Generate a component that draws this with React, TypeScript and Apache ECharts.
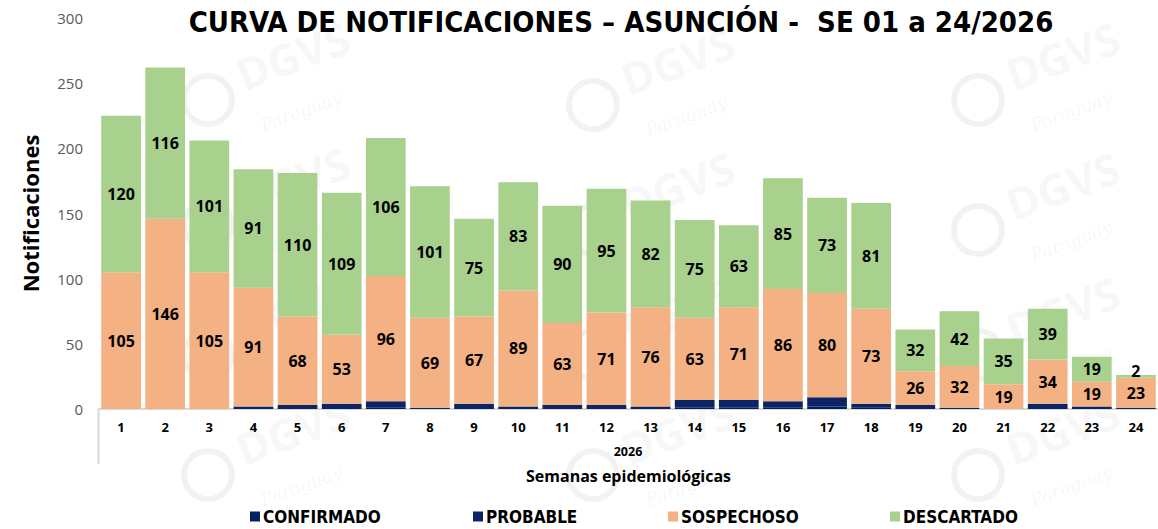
import React, { useEffect, useRef } from "react";
import * as echarts from "echarts";

const weeks = ["1","2","3","4","5","6","7","8","9","10","11","12","13","14","15","16","17","18","19","20","21","22","23","24"];
const confirmado = [0,0,0,0,0,0,1,0,0,0,0,0,0,1,1,1,2,1,0,0,0,0,0,0];
const probable = [0,0,0,2,3,4,5,1,4,2,3,3,2,6,6,5,7,3,3,1,0,4,2,1];
const sospechoso = [105,146,105,91,68,53,96,69,67,89,63,71,76,63,71,86,80,73,26,32,19,34,19,23];
const descartado = [120,116,101,91,110,109,106,101,75,83,90,95,82,75,63,85,73,81,32,42,35,39,19,2];
const yTicks = [0, 50, 100, 150, 200, 250, 300];

const NAVY = "#002060";
const NAVY2 = "#0a2466";
const ORANGE = "#F4B183";
const GREEN = "#A9D18E";
const COND = "'DejaVu Sans Condensed', 'DejaVu Sans', sans-serif";
const BODY = "'Open Sans', 'DejaVu Sans', sans-serif";

const watermarks = [
  [230, 55], [615, 60], [1000, 55],
  [230, 180], [615, 185], [1000, 185],
  [230, 310], [615, 310], [1000, 310],
  [230, 430], [615, 430], [1000, 430],
];

export default function App() {
  const ref = useRef<HTMLDivElement>(null);
  useEffect(() => {
    if (!ref.current) return;
    const chart = echarts.init(ref.current, null, { renderer: "svg" });
    const labelStyle = {
      show: true,
      position: "inside",
      color: "#000",
      fontWeight: "bold",
      fontSize: 16,
      lineHeight: 16,
      fontFamily: BODY,
    };
    const wm: any[] = [];
    watermarks.forEach(([x, y]) => {
      wm.push({
        type: "circle",
        z: -10,
        silent: true,
        shape: { cx: x - 22, cy: y + 45, r: 24 },
        style: { fill: "none", stroke: "rgba(0,0,0,0.05)", lineWidth: 6 },
      });
      wm.push({
        type: "text",
        x,
        y,
        rotation: 0.35,
        z: -10,
        silent: true,
        style: { text: "DGVS", fontSize: 44, fontWeight: "bold", fontFamily: BODY, fill: "rgba(0,0,0,0.05)" },
      });
      wm.push({
        type: "text",
        x: x + 28,
        y: y + 62,
        rotation: 0.35,
        z: -10,
        silent: true,
        style: { text: "Paraguay", fontSize: 18, fontStyle: "italic", fontFamily: "'DejaVu Serif', serif", fill: "rgba(0,0,0,0.05)" },
      });
    });
    const descData = descartado.map((v, i) =>
      i === descartado.length - 1 ? { value: v, label: { position: "top", distance: -4 } } : v
    );
    const option: any = {
      animation: false,
      backgroundColor: "#fff",
      title: {
        text: "CURVA DE NOTIFICACIONES – ASUNCIÓN -  SE 01 a 24/2026",
        left: 616,
        textAlign: "center",
        top: 2,
        textStyle: { fontFamily: COND, fontWeight: "bold", fontSize: 29, color: "#000" },
      },
      legend: [
        { name: "CONFIRMADO", x: 245 },
        { name: "PROBABLE", x: 468 },
        { name: "SOSPECHOSO", x: 663 },
        { name: "DESCARTADO", x: 885 },
      ].map((l) => ({
        data: [l.name],
        left: l.x,
        top: 503,
        itemWidth: 10,
        itemHeight: 10,
        itemGap: 3,
        icon: "rect",
        textStyle: { fontFamily: COND, fontWeight: "bold", fontSize: 17, color: "#000", padding: [0, 0, 0, -2] },
        selectedMode: false,
      })),
      grid: { left: 99, right: -1, top: 18, bottom: 120 },
      xAxis: {
        type: "category",
        data: weeks,
        axisLine: { lineStyle: { color: "#d9d9d9", width: 2 } },
        axisTick: { show: false },
        axisLabel: { color: "#000", fontWeight: "bold", fontSize: 13, fontFamily: BODY, margin: 11 },
        name: "Semanas epidemiológicas",
        nameLocation: "middle",
        nameGap: 59,
        nameTextStyle: { color: "#000", fontWeight: "bold", fontSize: 16, fontFamily: BODY },
      },
      yAxis: {
        type: "value",
        min: yTicks[0],
        max: yTicks[yTicks.length - 1],
        interval: 50,
        splitLine: { show: false },
        axisLine: { show: false },
        axisTick: { show: false },
        axisLabel: { color: "#595959", fontSize: 15, fontFamily: BODY, margin: 16 },
        name: "Notificaciones",
        nameLocation: "middle",
        nameGap: 58,
        nameTextStyle: { color: "#000", fontWeight: "bold", fontSize: 22, fontFamily: BODY },
      },
      graphic: [
        ...wm,
        {
          type: "line",
          silent: true,
          shape: { x1: 98.5, y1: 409, x2: 98.5, y2: 464 },
          style: { stroke: "#d9d9d9", lineWidth: 2 },
        },
        {
          type: "text",
          x: 628,
          y: 451,
          silent: true,
          style: { text: "2026", fontSize: 12.5, fontWeight: "bold", fontFamily: BODY, fill: "#000", align: "center", verticalAlign: "middle" },
        },
      ],
      series: [
        { name: "CONFIRMADO", type: "bar", stack: "t", data: confirmado, itemStyle: { color: NAVY }, barCategoryGap: "10%" },
        { name: "PROBABLE", type: "bar", stack: "t", data: probable, itemStyle: { color: NAVY2 } },
        { name: "SOSPECHOSO", type: "bar", stack: "t", data: sospechoso, itemStyle: { color: ORANGE }, label: labelStyle },
        { name: "DESCARTADO", type: "bar", stack: "t", data: descData, itemStyle: { color: GREEN }, label: labelStyle },
      ],
    };
    chart.setOption(option);
    return () => chart.dispose();
  }, []);
  return <div ref={ref} style={{ position: "fixed", left: 0, top: 0, width: 1158, height: 529 }} />;
}
